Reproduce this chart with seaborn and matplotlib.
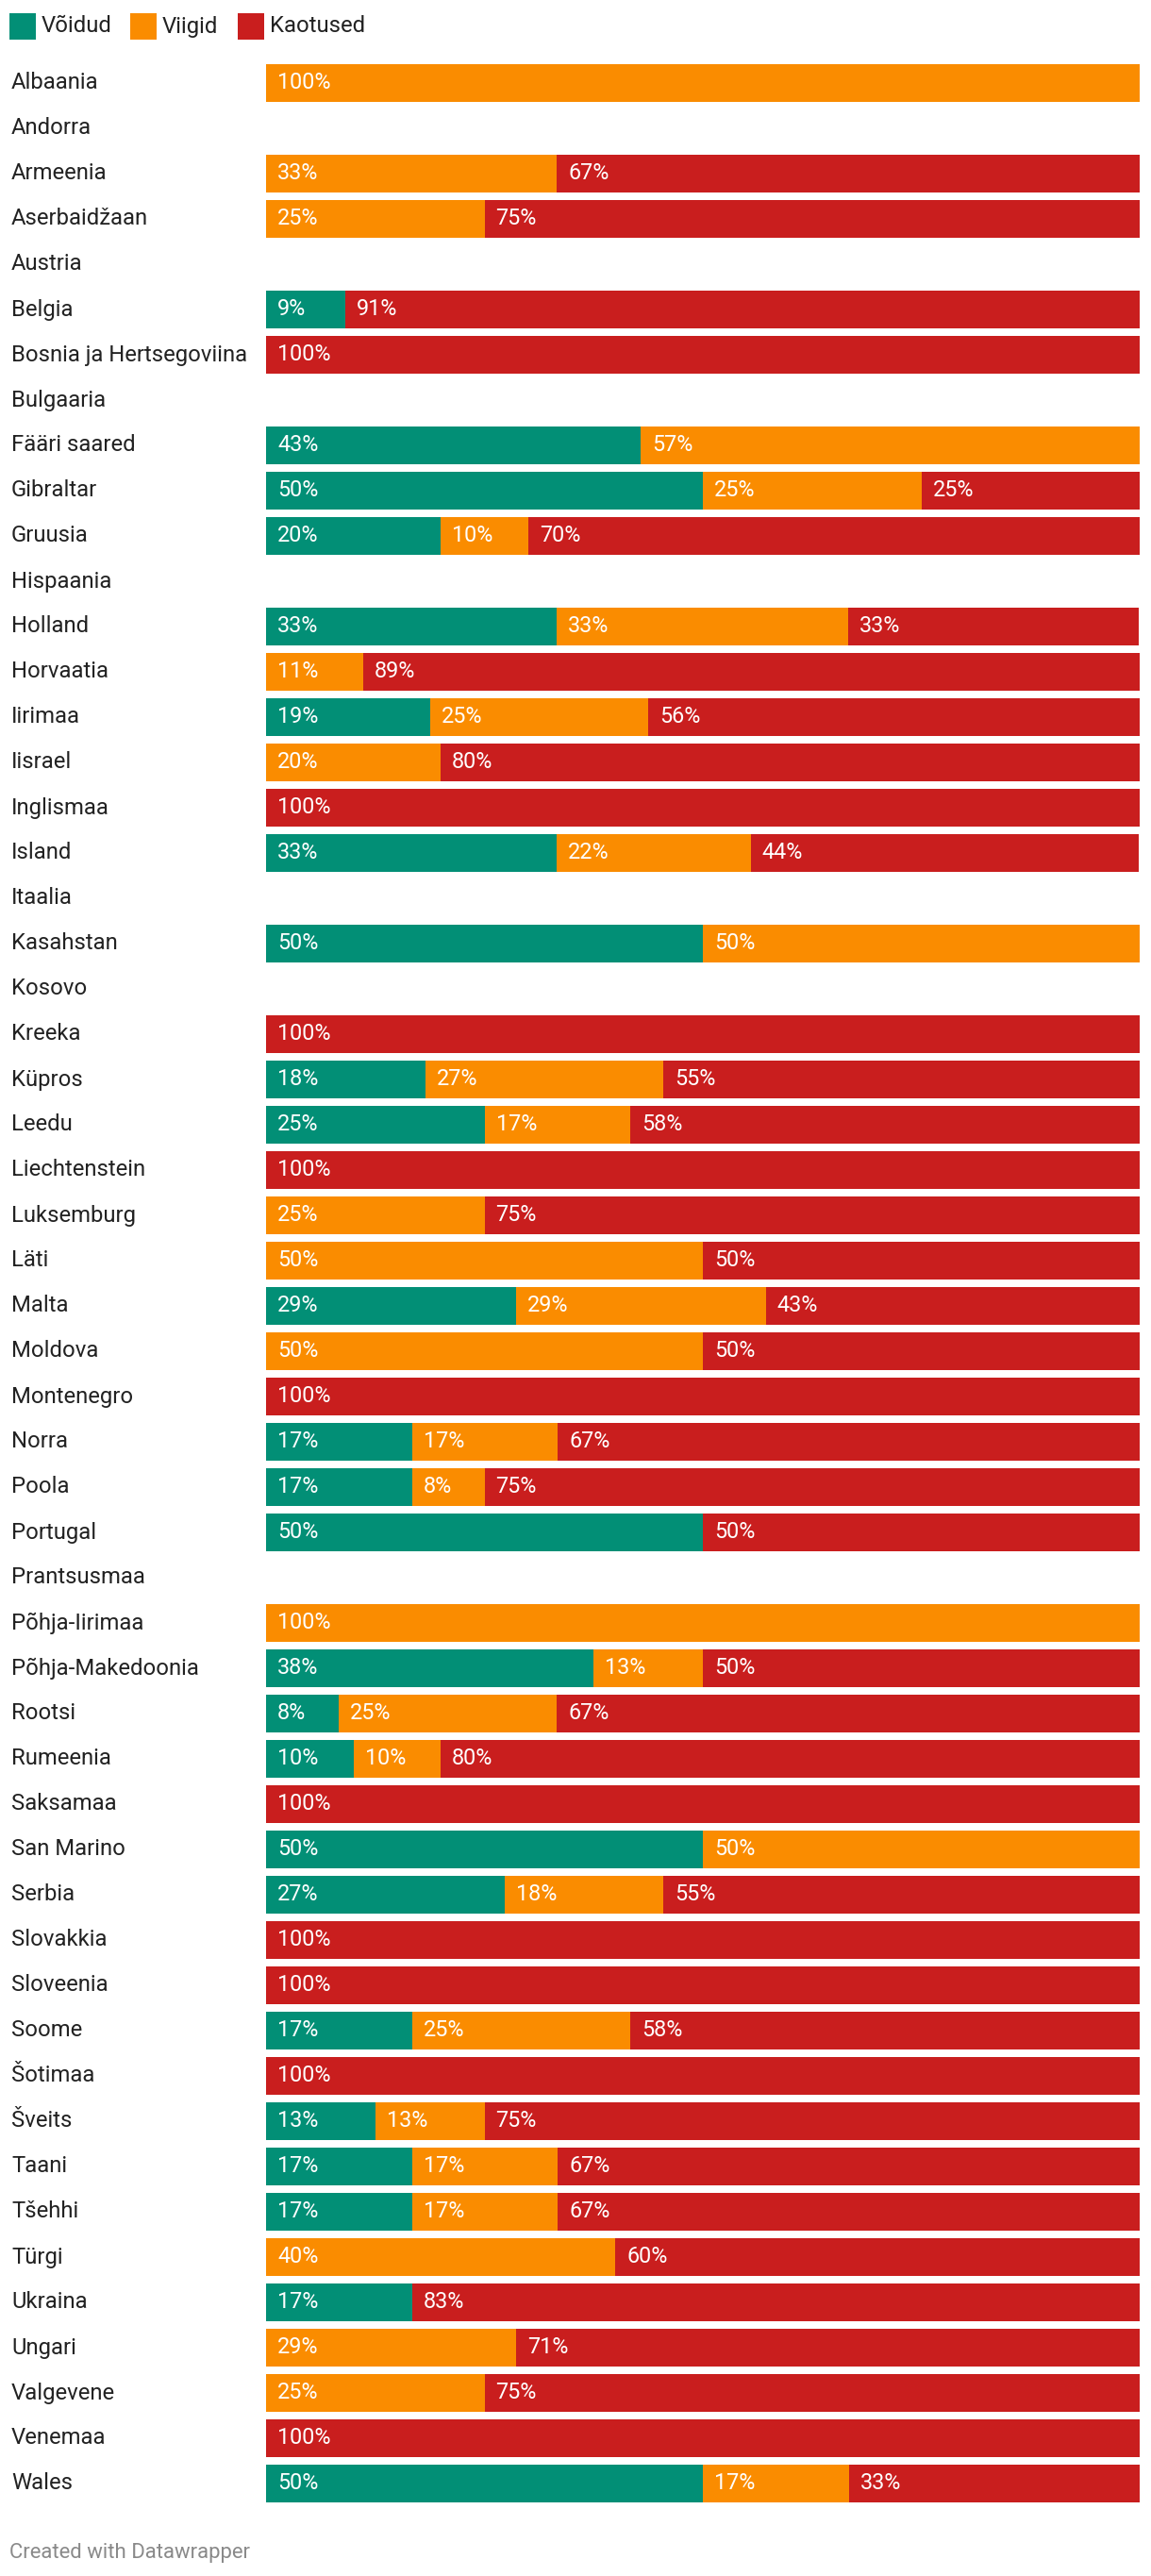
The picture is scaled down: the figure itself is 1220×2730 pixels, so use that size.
import numpy as np
import pandas as pd
import seaborn as sns
import matplotlib
matplotlib.use("Agg")
import matplotlib.pyplot as plt
from matplotlib.patches import Rectangle
from matplotlib import transforms

countries = [
    "Albaania", "Andorra", "Armeenia", "Aserbaidžaan", "Austria", "Belgia",
    "Bosnia ja Hertsegoviina", "Bulgaaria", "Fääri saared", "Gibraltar", "Gruusia",
    "Hispaania", "Holland", "Horvaatia", "Iirimaa", "Iisrael", "Inglismaa", "Island",
    "Itaalia", "Kasahstan", "Kosovo", "Kreeka", "Küpros", "Leedu", "Liechtenstein",
    "Luksemburg", "Läti", "Malta", "Moldova", "Montenegro", "Norra", "Poola",
    "Portugal", "Prantsusmaa", "Põhja-Iirimaa", "Põhja-Makedoonia", "Rootsi",
    "Rumeenia", "Saksamaa", "San Marino", "Serbia", "Slovakkia", "Sloveenia",
    "Soome", "Šotimaa", "Šveits", "Taani", "Tšehhi", "Türgi", "Ukraina", "Ungari",
    "Valgevene", "Venemaa", "Wales",
]

wins = [0, 0, 0, 0, 0, 9.1, 0, 0, 42.9, 50, 20, 0, 33.3, 0, 18.75, 0, 0, 33.3,
        0, 50, 0, 0, 18.2, 25, 0, 0, 0, 28.6, 0, 0, 16.7, 16.7, 50, 0, 0, 37.5,
        8.3, 10, 0, 50, 27.3, 0, 0, 16.7, 0, 12.5, 16.7, 16.7, 0, 16.7, 0, 0, 0, 50]
draws = [100, 0, 33.3, 25, 0, 0, 0, 0, 57.1, 25, 10, 0, 33.3, 11.1, 25, 20, 0, 22.2,
         0, 50, 0, 0, 27.3, 16.7, 0, 25, 50, 28.6, 50, 0, 16.7, 8.3, 0, 0, 100, 12.5,
         25, 10, 0, 50, 18.2, 0, 0, 25, 0, 12.5, 16.7, 16.7, 40, 0, 28.6, 25, 0, 16.7]
losses = [0, 0, 66.7, 75, 0, 90.9, 100, 0, 0, 25, 70, 0, 33.3, 88.9, 56.25, 80, 100, 44.4,
          0, 0, 0, 100, 54.5, 58.3, 100, 75, 50, 42.9, 50, 100, 66.7, 75, 50, 0, 0, 50,
          66.7, 80, 100, 0, 54.5, 100, 100, 58.3, 100, 75, 66.7, 66.7, 60, 83.3, 71.4, 75, 100, 33.3]

series_names = ["Võidud", "Viigid", "Kaotused"]
colors = ["#028f76", "#fa8c00", "#c91e1e"]

df = pd.DataFrame({"country": countries, "Võidud": wins, "Viigid": draws, "Kaotused": losses})
df["cum_w"] = df["Võidud"]
df["cum_d"] = df["Võidud"] + df["Viigid"]
df["cum_l"] = df["Võidud"] + df["Viigid"] + df["Kaotused"]

W, H, DPI = 1220, 2730, 100
sns.set_theme(style="white")
plt.rcParams["font.family"] = ["Roboto", "DejaVu Sans"]

fig = plt.figure(figsize=(W / DPI, H / DPI), dpi=DPI)
ax_left, ax_right = 282, 1208
ax_top, ax_bot = 64, 2656
ax = fig.add_axes([ax_left / W, 1 - ax_bot / H, (ax_right - ax_left) / W, (ax_bot - ax_top) / H])

bar_h = 0.82
for col, c in zip(["cum_l", "cum_d", "cum_w"], [colors[2], colors[1], colors[0]]):
    sns.barplot(data=df, y="country", x=col, order=countries, orient="h",
                color=c, width=bar_h, saturation=1, ax=ax, linewidth=0, errorbar=None)

ax.set_xlim(0, 100)
ax.set_ylim(len(countries) - 0.5, -0.5)
ax.set_xlabel("")
ax.set_ylabel("")
ax.set_xticks([])
ax.set_yticks([])
for s in ax.spines.values():
    s.set_visible(False)

val_fs = 16.8
lab_fs = 17.2
# value labels
offset = transforms.offset_copy(ax.transData, fig=fig, x=12, y=0, units="dots")
for i, row in df.iterrows():
    start = 0.0
    for name in series_names:
        v = row[name]
        if v > 0:
            ax.text(start, i, f"{int(v + 0.5)}%", transform=offset, ha="left", va="center",
                    color="white", fontsize=val_fs)
        start += v

# country labels
blend = transforms.blended_transform_factory(fig.transFigure, ax.transData)
for i, name in enumerate(countries):
    ax.text(12 / W, i, name, transform=blend, ha="left", va="center",
            color="#222222", fontsize=lab_fs, clip_on=False)

# legend
leg_x = [10, 138, 252]
for x0, name, c in zip(leg_x, series_names, colors):
    fig.add_artist(Rectangle((x0 / W, 1 - 42 / H), 28 / W, 28 / H,
                             transform=fig.transFigure, color=c, lw=0))
    fig.text((x0 + 34) / W, 1 - 28 / H, name, ha="left", va="center",
             fontsize=lab_fs, color="#222222")

fig.text(10 / W, 1 - 2705 / H, "Created with Datawrapper", ha="left", va="center",
         fontsize=15.9, color="#8a8a8a")

fig.savefig("out.png", dpi=DPI, facecolor="white")
